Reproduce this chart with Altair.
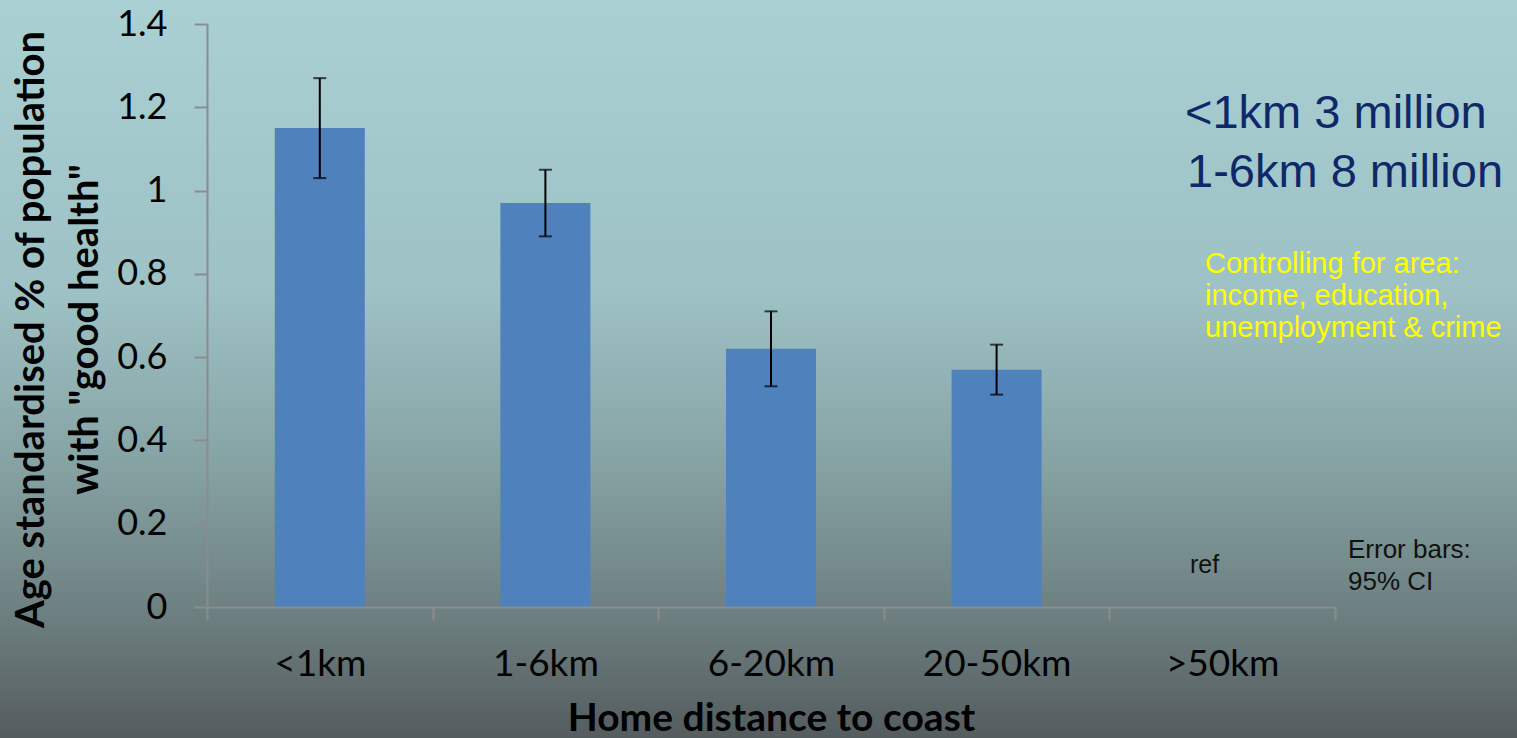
import altair as alt
import pandas as pd

categories = ["<1km", "1-6km", "6-20km", "20-50km", ">50km"]
values = [1.15, 0.97, 0.62, 0.57, None]
ci_low = [1.03, 0.89, 0.53, 0.51, None]
ci_high = [1.27, 1.05, 0.71, 0.63, None]
y_ticks = [0, 0.2, 0.4, 0.6, 0.8, 1.0, 1.2, 1.4]

df = pd.DataFrame({"cat": categories, "val": values, "lo": ci_low, "hi": ci_high})

W, H = 1128, 583
PL, PT = 207, 24

grad = alt.Gradient(
    gradient="linear", x1=0, x2=0, y1=0, y2=1,
    stops=[
        alt.GradientStop(color="#a9d0d3", offset=0),
        alt.GradientStop(color="#9dc1c4", offset=0.4),
        alt.GradientStop(color="#87a4a5", offset=0.62),
        alt.GradientStop(color="#6c7e7f", offset=0.84),
        alt.GradientStop(color="#545c5e", offset=1),
    ],
)

bg = alt.Chart(pd.DataFrame({"a": [0]})).mark_rect(fill=grad, strokeWidth=0).encode(
    x=alt.value(-PL), x2=alt.value(1517 - PL), y=alt.value(-PT), y2=alt.value(738 - PT)
)

xenc = alt.X(
    "cat:N",
    scale=alt.Scale(domain=categories, paddingInner=0, paddingOuter=0),
    sort=categories,
    axis=alt.Axis(
        title="Home distance to coast", labelAngle=0, tickBand="extent", zindex=1,
        domainColor="#8c8c8c", tickColor="#8c8c8c", tickSize=13, tickWidth=2, domainWidth=2,
        labelFont="Lato", labelFontSize=37, labelColor="black", labelPadding=26,
        titleFont="Lato", titleFontSize=39, titleFontWeight="bold", titleColor="black",
        titleBaseline="alphabetic", titleY=123, grid=False,
    ),
)

yscale = alt.Scale(domain=[0, 1.4], nice=False)

bars = alt.Chart(df).mark_bar(size=90, color="#4f81bd").encode(
    x=xenc,
    y=alt.Y(
        "val:Q", scale=yscale,
        axis=alt.Axis(
            values=y_ticks, format="~g", zindex=1,
            title=["Age standardised % of population", 'with "good health"'],
            domainColor="#8c8c8c", tickColor="#8c8c8c", tickSize=13, tickWidth=2, domainWidth=2,
            labelFont="Lato", labelFontSize=36, labelColor="black", labelPadding=27,
            titleFont="Lato", titleFontSize=40, titleFontWeight="bold", titleColor="black",
            titleBaseline="alphabetic", titleX=43 - PL, titleY=305, titleLineHeight=54,
            titleAlign="center", titleAngle=270, grid=False,
        ),
    ),
)

err = alt.Chart(df).mark_rule(color="black", strokeWidth=2).encode(
    x=alt.X("cat:N", sort=categories), y=alt.Y("lo:Q", scale=yscale), y2="hi:Q"
)
cap_lo = alt.Chart(df).mark_tick(color="black", size=13, thickness=2).encode(
    x=alt.X("cat:N", sort=categories), y=alt.Y("lo:Q", scale=yscale)
)
cap_hi = alt.Chart(df).mark_tick(color="black", size=13, thickness=2).encode(
    x=alt.X("cat:N", sort=categories), y=alt.Y("hi:Q", scale=yscale)
)

one = pd.DataFrame({"a": [0]})


def note(text, x, y, size, color, font="Liberation Sans", lh=None):
    kw = dict(text=text, align="left", baseline="alphabetic", font=font, fontSize=size, color=color)
    if lh is not None:
        kw["lineHeight"] = lh
    return alt.Chart(one).mark_text(**kw).encode(x=alt.value(x - PL), y=alt.value(y - PT))


n1 = note("<1km 3 million", 1185, 128, 47, "#0e2868")
n2 = note("1-6km 8 million", 1187, 187, 47, "#0e2868")
n3 = note(["Controlling for area:", "income, education,", "unemployment & crime"], 1205, 273, 29, "#ffff00", lh=32)
n4 = note("ref", 1190, 573, 25, "#111111")
n5 = note(["Error bars:", "95% CI"], 1348, 558, 26, "#111111", lh=32)

chart = alt.layer(bg, bars, err, cap_lo, cap_hi, n1, n2, n3, n4, n5).properties(
    width=W, height=H,
    autosize=alt.AutoSizeParams(type="none"),
    padding={"left": PL, "top": PT, "right": 1517 - PL - W, "bottom": 738 - PT - H},
    background="#7f9a9b",
).configure_view(stroke=None)

chart.save("out.html", embed_options={"renderer": "svg", "actions": False})
